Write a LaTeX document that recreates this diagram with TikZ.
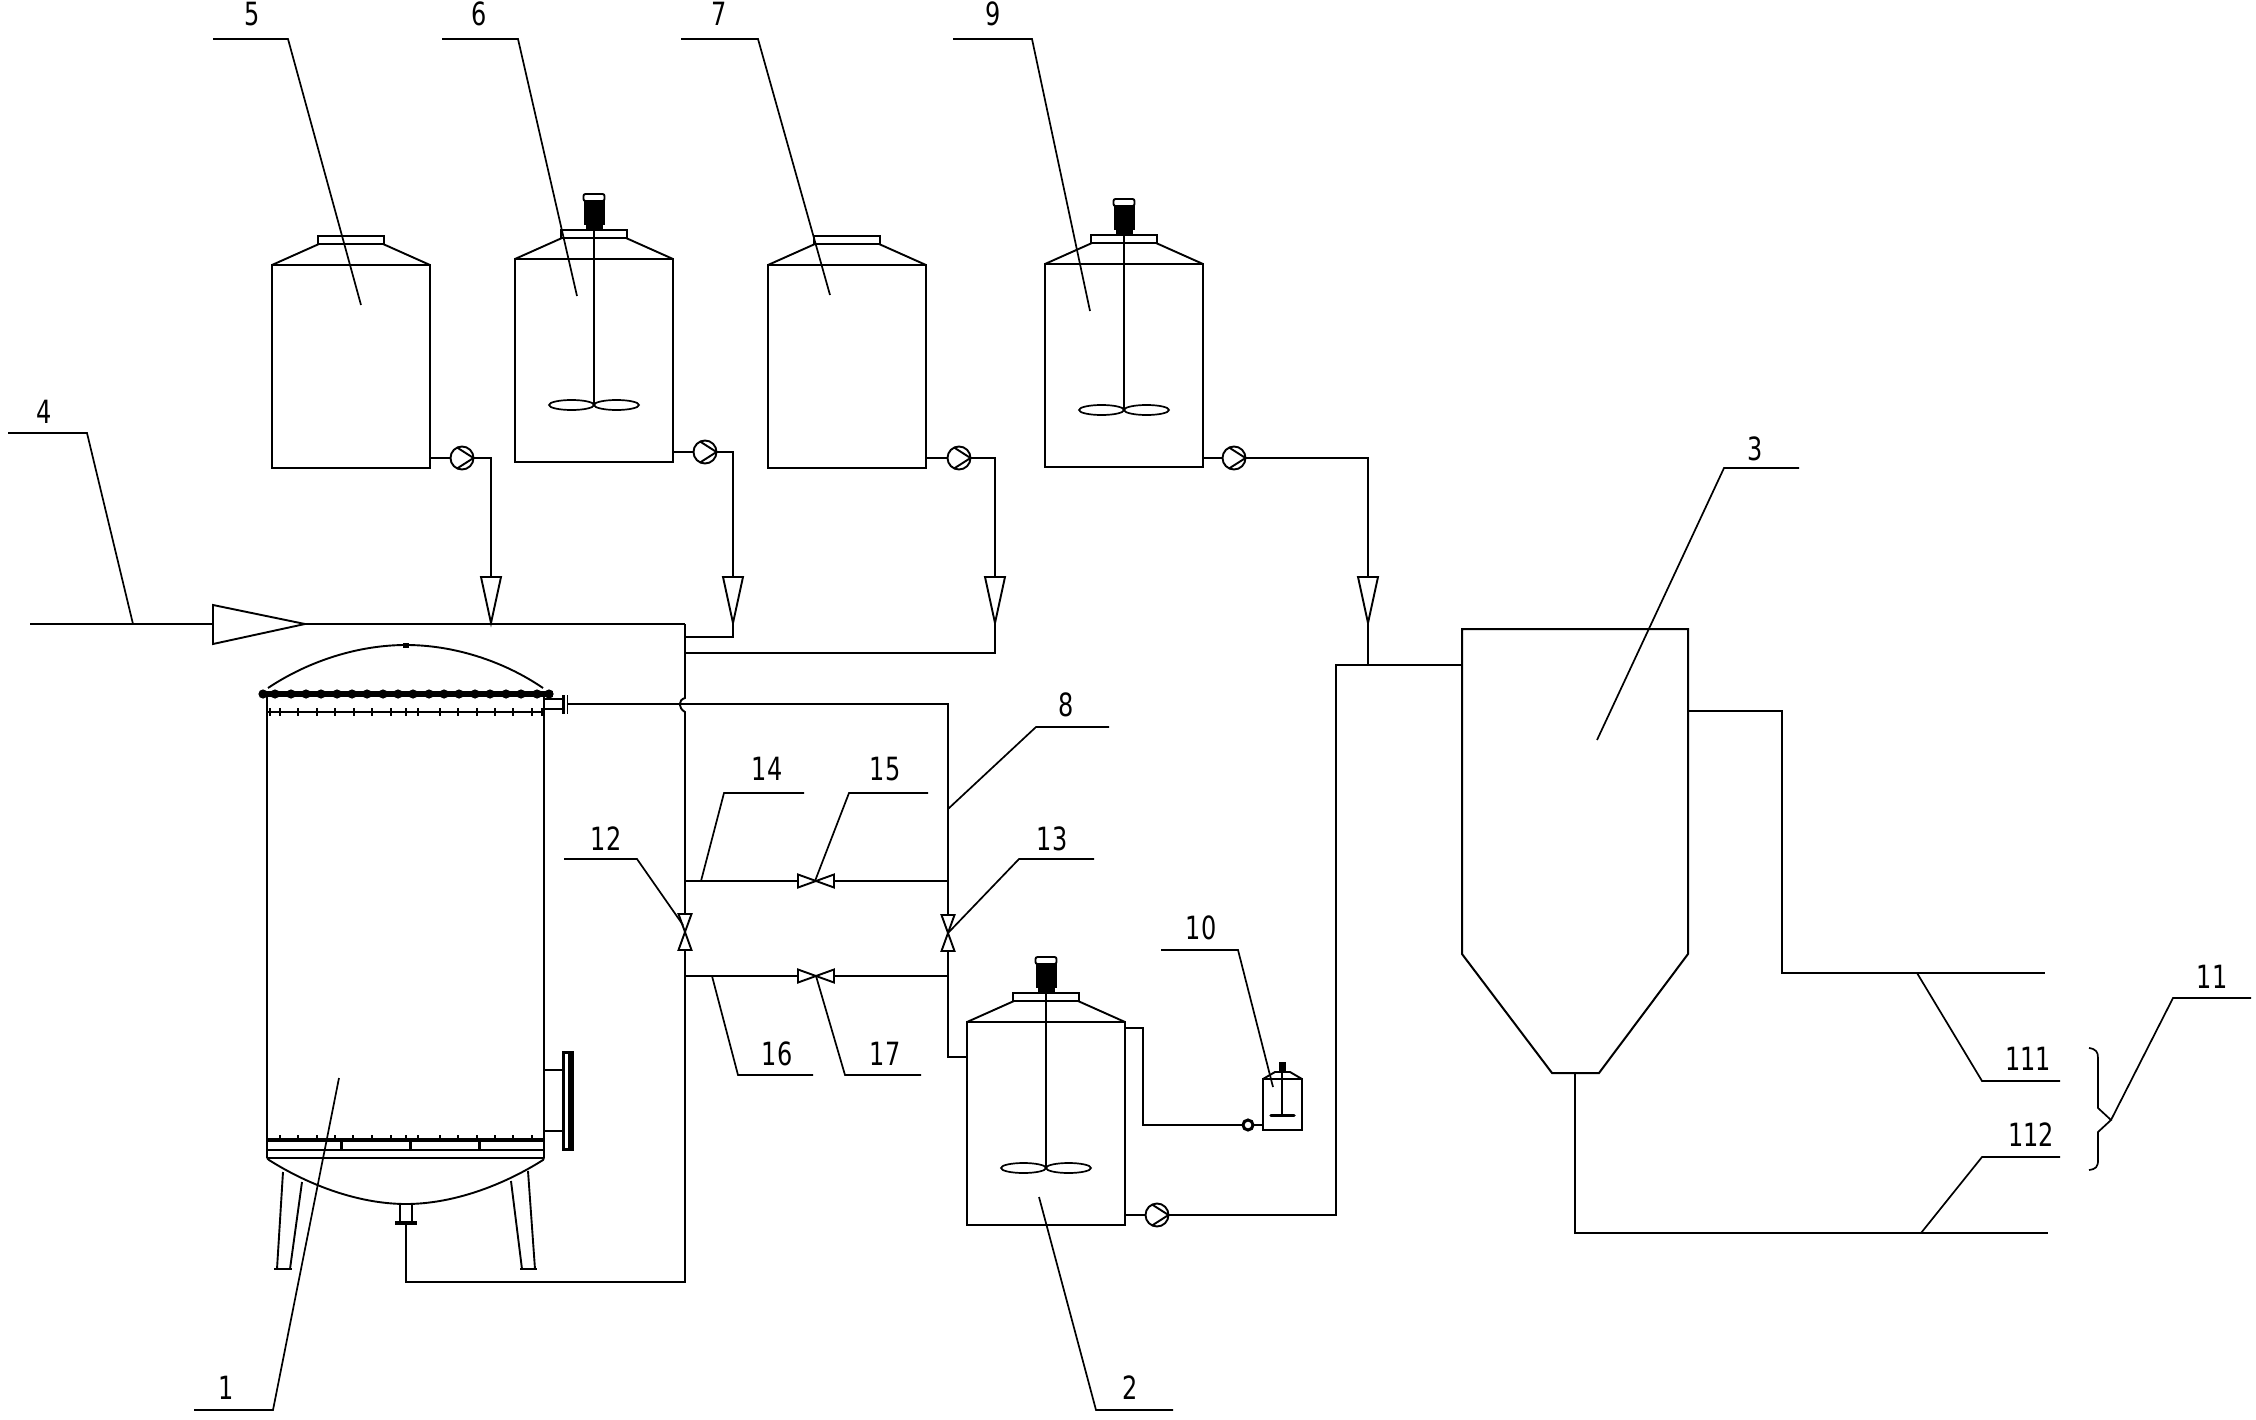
\documentclass[tikz,border=0pt]{standalone}
\usepackage{fontspec}
\newfontfamily\numfont[FakeStretch=0.75]{DejaVu Sans}
\tikzset{
  pipe/.style={line width=1.9pt,line join=miter},
  ld/.style={line width=1.7pt},
  lab/.style={font=\numfont\fontsize{32}{32}\selectfont,inner sep=0pt,outer sep=0pt,text=black},
  tankbox/.style={draw,line width=2pt,minimum width=158pt,minimum height=203pt,inner sep=0pt,outer sep=0pt,anchor=north west},
  pumpbox/.style={draw,circle,line width=1.9pt,minimum size=23pt,inner sep=0pt,outer sep=0pt},
  valvebox/.style={inner sep=0pt,outer sep=0pt},
}
% tank with cone and lid
\newcommand\tankat[3]{%
  \node[tankbox] (#1) at (#2,#3) {};
  \draw[pipe] (#1.north west) -- ++(47,-21) (#1.north east) -- ++(-47,-21);
  \draw[pipe] (#1.north west) ++(46,-21) rectangle ++(66,-8);
}
% agitator and motor
\newcommand\agitate[1]{%
  \begin{scope}[shift={(#1.north)}]
    \draw[pipe,line width=2.2pt] (0,-28) -- (0,146);
    \draw[pipe,line width=1.7pt] (-22.5,146) ellipse [x radius=22.5pt,y radius=5pt];
    \draw[pipe,line width=1.7pt] (22.5,146) ellipse [x radius=22.5pt,y radius=5pt];
    \draw[pipe,fill=white,rounded corners=2pt] (-10.5,-58) rectangle (10.5,-65);
    \fill (-10.5,-58) rectangle (10.5,-34);
    \fill (-8.5,-34) rectangle (8.5,-28);
  \end{scope}
}
\newcommand\pumpat[3]{%
  \node[pumpbox] (#1) at (#2,#3) {};
  \draw[pipe] (#1.east) -- (#1.115) (#1.east) -- (#1.245);
}
\newcommand\hvalve[3]{%
  \node[valvebox,minimum width=36pt,minimum height=13pt] (#1) at (#2,#3) {};
  \draw[pipe] (#1.north west) -- (#1.south east) -- (#1.north east) -- (#1.south west) -- cycle;
}
\newcommand\vvalve[3]{%
  \node[valvebox,minimum width=13pt,minimum height=36pt] (#1) at (#2,#3) {};
  \draw[pipe] (#1.north west) -- (#1.south east) -- (#1.south west) -- (#1.north east) -- cycle;
}
\newcommand\flowdown[1]{%
  \draw[pipe] (#1,577) ++(-10,0) -- ++(20,0) -- ++(-10,46) -- cycle;
}
\begin{document}
\begin{tikzpicture}[x=1pt,y=-1pt]
\useasboundingbox (0,0) rectangle (2256,1420);
\fill[white] (0,0) rectangle (2256,1420);

% ---- vessel 1
\draw[pipe,line width=2.2pt] (267,694) -- (267,1158);
\draw[pipe] (544,694) -- (544,1158);
\draw[pipe] (268,688) .. controls (310,660) and (360,645) .. (406,645) .. controls (452,645) and (502,660) .. (543,688);
\fill (403,643) rectangle (409,648);
\draw[line width=6pt] (260,694) -- (553,694);
\foreach \x in {263,275,291,306,321,337,352,367,383,398,413,429,444,459,475,490,506,521,537,549}
  \fill (\x,694) circle (4.6pt);
\draw[pipe] (267,712) -- (544,712);
\foreach \x in {270,280,298,317,335,354,372,391,406,418,440,458,477,495,513,532,542}
  \draw[pipe] (\x,708) -- (\x,716);
\draw[line width=4pt] (267,1140) -- (544,1140);
\foreach \x in {280,298,317,335,353,372,391,406,418,440,458,477,495,513,532}
  \draw[pipe] (\x,1135) -- (\x,1140);
\foreach \x in {341,410,479}
  \draw[line width=3pt] (\x,1140) -- (\x,1150);
\draw[pipe] (267,1150) -- (544,1150);
\draw[pipe] (267,1158) -- (544,1158);
\draw[pipe] (267,1158) -- (269,1160) .. controls (310,1186) and (360,1204) .. (406,1204) .. controls (452,1204) and (502,1186) .. (543,1160) -- (544,1158);
% legs
\draw[pipe] (283,1172) -- (277,1269) (302,1182) -- (290,1269);
\draw[pipe,line width=2.4pt] (274,1269) -- (292,1269);
\draw[pipe] (511,1181) -- (522,1269) (528,1171) -- (535,1269);
\draw[pipe,line width=2.4pt] (520,1269) -- (537,1269);
% bottom nozzle
\draw[pipe] (400,1204) -- (400,1222) (412,1204) -- (412,1222);
\draw[line width=3.4pt] (395,1223) -- (417,1223);
% side manway
\draw[pipe] (544,1070) -- (563,1070) (544,1131) -- (563,1131);
\draw[pipe,fill=black] (563,1052) rectangle (573,1150);
\fill[white] (565,1054) rectangle (568,1148);
% top right nozzle
\draw[pipe] (544,699) -- (562,699) (544,709) -- (562,709);
\draw[line width=3pt] (563.5,695) -- (563.5,714);
\draw[pipe] (567.5,695) -- (567.5,714);

% ---- tanks
\tankat{t5}{272}{265}
\tankat{t6}{515}{259}
\agitate{t6}
\tankat{t7}{768}{265}
\tankat{t9}{1045}{264}
\agitate{t9}
\tankat{t2}{967}{1022}
\agitate{t2}

% ---- pumps
\pumpat{p5}{462}{458}
\pumpat{p6}{705}{452}
\pumpat{p7}{959}{458}
\pumpat{p9}{1234}{458}
\pumpat{p2}{1157}{1215}
\node[draw,circle,line width=3pt,minimum size=10pt,inner sep=0pt,outer sep=0pt] (p10) at (1248,1125) {};

% ---- valves
\hvalve{v15}{816}{881}
\hvalve{v17}{816}{976}
\vvalve{v12}{685}{932}
\vvalve{v13}{948}{933}

% ---- named junctions
\coordinate (top) at (685,624);
\coordinate (j6) at (685,637);
\coordinate (j7) at (685,653);
\coordinate (jr) at (948,704);
\coordinate (a5) at (491,623);
\coordinate (a6) at (733,623);
\coordinate (a7) at (995,623);
\coordinate (a9) at (1368,623);

% ---- dosing lines
\draw[pipe] (t5.east |- p5) -- (p5);
\draw[pipe] (p5.east) -| (491,577);
\flowdown{491}
\draw[pipe] (t6.east |- p6) -- (p6);
\draw[pipe] (p6.east) -| (733,577);
\flowdown{733}
\draw[pipe] (t7.east |- p7) -- (p7);
\draw[pipe] (p7.east) -| (995,577);
\flowdown{995}
\draw[pipe] (t9.east |- p9) -- (p9);
\draw[pipe] (p9.east) -| (1368,577);
\flowdown{1368}
\draw[pipe,line width=2.4pt] (a6) |- (j6);
\draw[pipe] (a7) |- (j7);

% ---- feed line 4
\coordinate (s4) at (30,624);
\draw[pipe] (s4) -- (213,624);
\draw[pipe] (213,605) -- (213,644) -- (305,624) -- cycle;
\draw[pipe] (305,624) -- (top);
\draw[pipe] (a5) -- (491,624);

% ---- main riser with hop over the line 8
\draw[pipe] (top) -- (685,698) .. controls (678,700) and (678,708) .. (685,712) -- (v12.north);
\draw[pipe] (v12.south) -- (685,1282) -- (406,1282) -- (406,1224);

% ---- line 8
\draw[pipe] (568,704) -- (jr) -- (v13.north);
\draw[pipe] (v13.south) -- (948,1057) -- (t2.west |- 948,1057);
\draw[pipe] (685,881) -- (v15.west);
\draw[pipe] (v15.east) -- (948,881);
\draw[pipe,line width=2.4pt] (685,976) -- (v17.west);
\draw[pipe,line width=2.4pt] (v17.east) -- (948,976);

% ---- small doser 10
\node[draw,line width=2pt,minimum width=39pt,minimum height=51pt,inner sep=0pt,outer sep=0pt,anchor=north west] (t10) at (1263,1079) {};
\draw[pipe] (t10.north west) -- (1275,1072) -- (1290,1072) -- (t10.north east);
\fill (1279,1062) rectangle (1286,1073);
\draw[pipe] (1282,1072) -- (1282,1115);
\draw[line width=3.5pt,line cap=round] (1271,1115.5) -- (1294,1115.5);
\draw[pipe] (t10.west |- p10) -- (p10);
\draw[pipe,line width=2.2pt] (p10) -- (1143,1125) -- (1143,1028) -- (1125,1028);

% ---- tank 3
\coordinate (in3) at (1462,665);
\draw[pipe,line width=2pt] (1462,629) -- (1688,629) -- (1688,954) -- (1599,1073) -- (1552,1073) -- (1462,954) -- cycle;
\draw[pipe] (p2.east) -- (1336,1215) -- (1336,665) -- (in3);
\draw[pipe] (t2.east |- p2) -- (p2);
\draw[pipe,line width=2.4pt] (a9) -- (1368,665);
\draw[pipe] (1688,711) -- (1782,711) -- (1782,973) -- (2045,973);
\draw[pipe] (1575,1073) -- (1575,1233) -- (2048,1233);

% ---- brace
\draw[ld] (2089,1048) .. controls (2096,1049) and (2098,1052) .. (2098,1058) -- (2098,1108) -- (2111,1120) -- (2098,1132) -- (2098,1160) .. controls (2098,1167) and (2096,1169) .. (2089,1170);

% ---- leaders
\draw[ld] (339,1078) -- (273,1410) -- (194,1410);
\draw[ld] (1039,1197) -- (1096,1410) -- (1173,1410);
\draw[ld] (1597,740) -- (1724,468) -- (1799,468);
\draw[ld] (133,624) -- (87,433) -- (8,433);
\draw[ld] (361,305) -- (288,39) -- (213,39);
\draw[ld] (577,296) -- (518,39) -- (442,39);
\draw[ld] (830,295) -- (758,39) -- (681,39);
\draw[ld] (948,809) -- (1036,727) -- (1109,727);
\draw[ld] (1090,311) -- (1032,39) -- (953,39);
\draw[ld] (1273,1087) -- (1238,950) -- (1161,950);
\draw[ld] (2111,1120) -- (2173,998) -- (2251,998);
\draw[ld] (1917,973) -- (1982,1081) -- (2060,1081);
\draw[ld] (1921,1233) -- (1982,1157) -- (2060,1157);
\draw[ld] (683,925) -- (637,859) -- (564,859);
\draw[ld] (948,933) -- (1019,859) -- (1094,859);
\draw[ld] (701,881) -- (724,793) -- (804,793);
\draw[ld] (815,881) -- (849,793) -- (928,793);
\draw[ld] (712,976) -- (738,1075) -- (813,1075);
\draw[ld] (816,976) -- (845,1075) -- (921,1075);

% ---- labels
\node[lab] (l1) at (226,1388) {1};
\node[lab] (l2) at (1130,1388) {2};
\node[lab] (l3) at (1755,449) {3};
\node[lab] (l4) at (44,412) {4};
\node[lab] (l5) at (252,14) {5};
\node[lab] (l6) at (479,14) {6};
\node[lab] (l7) at (719,14) {7};
\node[lab] (l8) at (1066,705) {8};
\node[lab] (l9) at (993,14) {9};
\node[lab] (l10) at (1201,928) {10};
\node[lab] (l11) at (2212,977) {11};
\node[lab] (l12) at (606,839) {12};
\node[lab] (l13) at (1052,839) {13};
\node[lab] (l14) at (767,769) {14};
\node[lab] (l15) at (885,769) {15};
\node[lab] (l16) at (777,1054) {16};
\node[lab] (l17) at (885,1054) {17};
\node[lab] (l111) at (2028,1059) {111};
\node[lab] (l112) at (2031,1135) {112};
\end{tikzpicture}
\end{document}
